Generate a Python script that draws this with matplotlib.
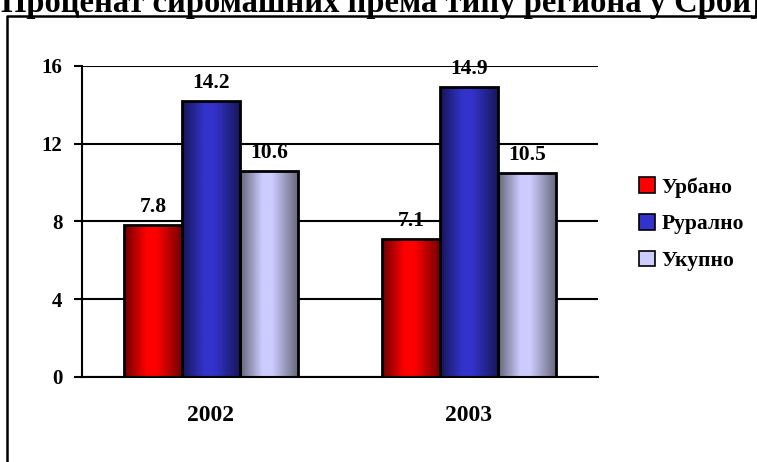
import numpy as np
import matplotlib
matplotlib.use("Agg")
import matplotlib.pyplot as plt
from matplotlib.colors import LinearSegmentedColormap
from matplotlib.patches import Patch
from matplotlib.lines import Line2D

# podaci
godine = ["2002", "2003"]
serije = ["Урбано", "Рурално", "Укупно"]
urbano = [7.8, 7.1]
ruralno = [14.2, 14.9]
ukupno = [10.6, 10.5]
naslov = "Проценат сиромашних према типу региона у Србији"

boje_svetle = ["#ff0000", "#3333cc", "#ccccff"]
boje_tamne = ["#700000", "#161658", "#66667a"]

plt.rcParams['font.family'] = ['Liberation Serif', 'DejaVu Serif']
plt.rcParams['font.weight'] = 'bold'

fig = plt.figure(figsize=(7.57, 4.62), dpi=100)
ax = fig.add_axes([82/757, 1-377/462, (598-82)/757, (377-66)/462])

sirina = 0.225
x = np.arange(len(godine))
grad = np.linspace(0, 1, 64).reshape(1, -1)

for i, (vrednosti, svetla, tamna) in enumerate(zip([urbano, ruralno, ukupno], boje_svetle, boje_tamne)):
    cmap = LinearSegmentedColormap.from_list(
        "g%d" % i, [(0, tamna), (0.38, svetla), (0.55, svetla), (1, tamna)])
    pozicije = x + (i - 1) * sirina
    bars = ax.bar(pozicije, vrednosti, sirina, color='none', edgecolor='black',
                  linewidth=2, zorder=3)
    for b, v in zip(bars, vrednosti):
        x0 = b.get_x()
        im = ax.imshow(grad, cmap=cmap, aspect='auto',
                       extent=[x0, x0 + sirina, 0, v], zorder=2.5)
        im.set_clip_path(b)
        ax.annotate("%.1f" % v, (b.get_x() + sirina / 2, v), xytext=(0, 9.5),
                    textcoords='offset points', ha='center', va='baseline',
                    fontsize=15.5, fontweight='bold', zorder=4)

ax.set_xlim(-0.5, 1.5)
ax.set_ylim(0, 16)
ax.set_yticks([0, 4, 8, 12, 16])
ax.set_xticks(x)
ax.set_xticklabels(godine, fontsize=17, fontweight='bold')
ax.tick_params(axis='x', length=0, pad=20)
ax.tick_params(axis='y', length=6, width=1.5, pad=8, labelsize=15)
for t in ax.get_yticklabels():
    t.set_fontweight('bold')
ax.yaxis.grid(True, color='black', linewidth=1.5, zorder=1)
ax.set_axisbelow(True)
for s in ['top', 'right']:
    ax.spines[s].set_visible(False)
ax.spines['left'].set_linewidth(1.5)
ax.spines['bottom'].set_linewidth(1.5)

rucke = [Patch(facecolor=c, edgecolor='black', linewidth=1.2) for c in boje_svetle]
leg = fig.legend(rucke, serije, loc='upper left', bbox_to_anchor=(624/757, 1-162/462),
                 frameon=False, prop={'size': 15.5, 'weight': 'bold'},
                 handlelength=0.75, handleheight=0.75, handletextpad=0.3,
                 labelspacing=0.76, borderpad=0.2)

# okvir grafikona
fig.add_artist(Line2D([7/757, 7/757, 1.0], [0.0, 1-16/462, 1-16/462],
                      transform=fig.transFigure, color='black', linewidth=1.8))

fig.text(1/757, 1-12/462, naslov, ha='left', va='baseline', fontsize=23.5,
         fontweight='bold')

fig.savefig("out.png", dpi=100)
